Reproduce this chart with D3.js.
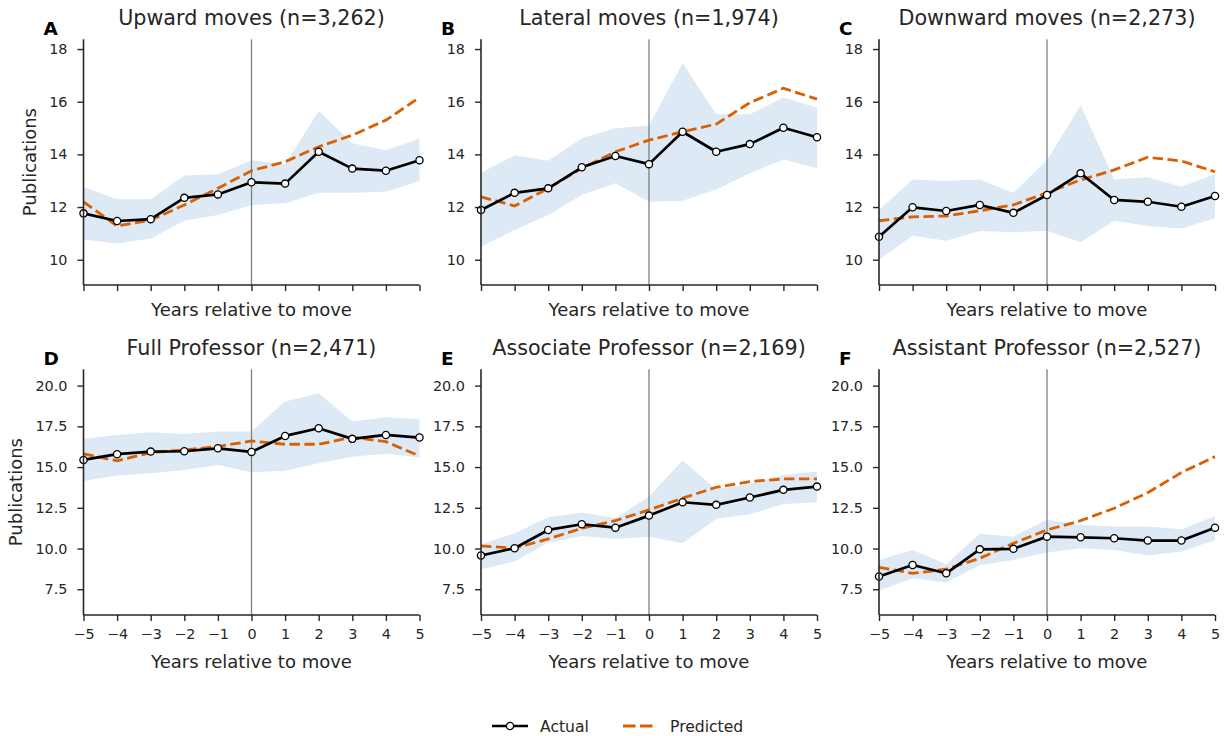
<!DOCTYPE html>
<html>
<head>
<meta charset="utf-8">
<script src="https://cdn.jsdelivr.net/npm/d3@7"></script>
<style>
  html, body { margin: 0; padding: 0; background: #fff; }
  svg { display: block; font-family: "DejaVu Sans", sans-serif; }
</style>
</head>
<body>
<div id="app"></div>
<script>
// years relative to the move
const years = [-5, -4, -3, -2, -1, 0, 1, 2, 3, 4, 5];

const panelTitles = [
    'Upward moves (n=3,262)', 'Lateral moves (n=1,974)', 'Downward moves (n=2,273)',
    'Full Professor (n=2,471)', 'Associate Professor (n=2,169)', 'Assistant Professor (n=2,527)'
];
const panelLetters = ['A', 'B', 'C', 'D', 'E', 'F'];

const upwardActual = [11.76, 11.47, 11.54, 12.35, 12.48, 12.94, 12.89, 14.10, 13.46, 13.38, 13.78];
const upwardPredicted = [12.20, 11.28, 11.50, 12.08, 12.71, 13.38, 13.72, 14.29, 14.73, 15.30, 16.16];
const upwardLower = [10.77, 10.62, 10.81, 11.48, 11.70, 12.08, 12.14, 12.54, 12.54, 12.58, 12.99];
const upwardUpper = [12.77, 12.30, 12.30, 13.20, 13.25, 13.78, 13.63, 15.65, 14.42, 14.16, 14.60];

const lateralActual = [11.89, 12.54, 12.71, 13.51, 13.94, 13.63, 14.86, 14.10, 14.39, 15.01, 14.65];
const lateralPredicted = [12.39, 12.04, 12.71, 13.47, 14.10, 14.54, 14.86, 15.15, 15.96, 16.51, 16.10];
const lateralLower = [10.49, 11.13, 11.70, 12.46, 12.90, 12.20, 12.24, 12.67, 13.28, 13.81, 13.47];
const lateralUpper = [13.30, 13.97, 13.76, 14.61, 14.99, 15.11, 17.46, 15.52, 15.52, 16.16, 15.77];

const downwardActual = [10.87, 11.99, 11.85, 12.08, 11.78, 12.46, 13.28, 12.27, 12.20, 12.01, 12.42];
const downwardPredicted = [11.48, 11.63, 11.66, 11.86, 12.08, 12.54, 13.03, 13.41, 13.89, 13.75, 13.34];
const downwardLower = [10.01, 10.91, 10.72, 11.09, 11.04, 11.10, 10.66, 11.48, 11.28, 11.19, 11.57];
const downwardUpper = [11.89, 13.05, 12.99, 13.05, 12.54, 13.78, 15.87, 13.05, 13.13, 12.77, 13.25];

const fullActual = [15.44, 15.79, 15.95, 15.97, 16.15, 15.93, 16.91, 17.38, 16.73, 16.97, 16.81];
const fullPredicted = [15.81, 15.38, 15.89, 16.05, 16.26, 16.60, 16.40, 16.40, 16.83, 16.56, 15.68];
const fullLower = [14.15, 14.48, 14.62, 14.82, 15.13, 14.68, 14.78, 15.23, 15.64, 15.81, 15.58];
const fullUpper = [16.73, 16.97, 17.14, 17.03, 17.18, 17.18, 19.02, 19.53, 17.79, 18.06, 17.93];

const assocActual = [9.57, 10.02, 11.14, 11.49, 11.28, 12.02, 12.84, 12.68, 13.13, 13.60, 13.80];
const assocPredicted = [10.16, 10.02, 10.59, 11.24, 11.71, 12.37, 13.09, 13.76, 14.11, 14.27, 14.27];
const assocLower = [8.73, 9.20, 10.36, 10.77, 10.59, 10.73, 10.32, 11.82, 12.10, 12.74, 12.84];
const assocUpper = [10.26, 10.94, 11.92, 12.21, 11.86, 13.19, 15.40, 13.64, 13.96, 14.52, 14.72];

const assistActual = [8.28, 8.99, 8.48, 9.95, 9.98, 10.73, 10.69, 10.63, 10.49, 10.49, 11.28];
const assistPredicted = [8.85, 8.48, 8.73, 9.40, 10.32, 11.14, 11.71, 12.47, 13.43, 14.66, 15.64];
const assistLower = [7.42, 8.17, 7.91, 8.99, 9.30, 9.75, 10.02, 9.91, 9.57, 9.81, 10.53];
const assistUpper = [9.30, 9.91, 9.03, 10.90, 10.73, 11.76, 11.45, 11.35, 11.35, 11.18, 12.00];

const topTicks = [10, 12, 14, 16, 18];
const bottomTicks = [7.5, 10, 12.5, 15, 17.5, 20];

const series = [
    [upwardActual, upwardPredicted, upwardLower, upwardUpper],
    [lateralActual, lateralPredicted, lateralLower, lateralUpper],
    [downwardActual, downwardPredicted, downwardLower, downwardUpper],
    [fullActual, fullPredicted, fullLower, fullUpper],
    [assocActual, assocPredicted, assocLower, assocUpper],
    [assistActual, assistPredicted, assistLower, assistUpper]
];

const width = 1225;
const height = 736;
const textColor = '#262626';
const orange = '#d95f02';
const bandColor = '#dde9f4';

const colLeft = [83.5, 481, 879];
const axW = 336;
const rowTop = [39.3, 369.3];
const axH = 245.7;

const svg = d3.select('#app').append('svg')
    .attr('width', width).attr('height', height);

series.forEach((s, i) => {
    const row = Math.floor(i / 3);
    const col = i % 3;
    const [actual, predicted, lower, upper] = s;
    const g = svg.append('g')
        .attr('transform', `translate(${colLeft[col]}, ${rowTop[row]})`);

    const x = d3.scaleLinear().domain([-5, 5]).range([0, axW]);
    const y = d3.scaleLinear()
        .domain(row === 0 ? [9.04, 18.37] : [5.92, 21.0])
        .range([axH, 0]);

    const pts = years.map((yr, k) => ({ yr, a: actual[k], p: predicted[k], lo: lower[k], hi: upper[k] }));

    // confidence band
    g.append('path').datum(pts)
        .attr('fill', bandColor)
        .attr('d', d3.area().x(d => x(d.yr)).y0(d => y(d.lo)).y1(d => y(d.hi)));

    // move year
    g.append('line')
        .attr('x1', x(0)).attr('x2', x(0))
        .attr('y1', 0).attr('y2', axH)
        .attr('stroke', '#7f7f7f').attr('stroke-width', 1.3);

    g.append('path').datum(pts)
        .attr('fill', 'none')
        .attr('stroke', orange)
        .attr('stroke-width', 2.8)
        .attr('stroke-dasharray', '10.4,4.5')
        .attr('d', d3.line().x(d => x(d.yr)).y(d => y(d.p)));

    g.append('path').datum(pts)
        .attr('fill', 'none')
        .attr('stroke', '#000')
        .attr('stroke-width', 2.7)
        .attr('stroke-linejoin', 'round')
        .attr('d', d3.line().x(d => x(d.yr)).y(d => y(d.a)));

    g.selectAll('circle.pt').data(pts).join('circle')
        .attr('class', 'pt')
        .attr('cx', d => x(d.yr))
        .attr('cy', d => y(d.a))
        .attr('r', 3.6)
        .attr('fill', '#fff')
        .attr('stroke', '#000')
        .attr('stroke-width', 1.3);

    // axes
    const yAxis = d3.axisLeft(y)
        .tickValues(row === 0 ? topTicks : bottomTicks)
        .tickFormat(row === 0 ? d3.format('d') : d3.format('.1f'))
        .tickSize(6).tickPadding(10);
    const yg = g.append('g').call(yAxis);

    const xAxis = d3.axisBottom(x)
        .tickValues(years)
        .tickSize(6).tickPadding(8);
    const xg = g.append('g').attr('transform', `translate(0, ${axH})`).call(xAxis);
    if (row === 0) xg.selectAll('.tick text').remove();

    [yg, xg].forEach(a => {
        a.select('.domain').attr('stroke', textColor).attr('stroke-width', 1.6);
        a.selectAll('.tick line').attr('stroke', textColor).attr('stroke-width', 1.4);
        a.selectAll('.tick text')
            .attr('fill', textColor)
            .style('font-size', '14.4px')
            .style('font-family', '"DejaVu Sans", sans-serif');
    });
    // the axisLeft/axisBottom domain path has outer ticks; keep them flush
    yg.select('.domain').attr('d', `M0,0V${axH}`);
    xg.select('.domain').attr('d', `M0,0H${axW}`);

    g.append('text')
        .attr('x', axW / 2).attr('y', -14)
        .attr('text-anchor', 'middle')
        .attr('fill', textColor)
        .style('font-size', '20.7px')
        .text(panelTitles[i]);

    g.append('text')
        .attr('x', -40).attr('y', -4.5)
        .attr('fill', '#000')
        .style('font-size', '18.5px')
        .style('font-weight', 'bold')
        .text(panelLetters[i]);

    g.append('text')
        .attr('x', axW / 2).attr('y', row === 0 ? 276.7 : 298.7)
        .attr('text-anchor', 'middle')
        .attr('fill', textColor)
        .style('font-size', '18px')
        .text('Years relative to move');

    if (col === 0) {
        g.append('text')
            .attr('transform', `translate(${row === 0 ? -47.5 : -62}, ${axH / 2}) rotate(-90)`)
            .attr('text-anchor', 'middle')
            .attr('fill', textColor)
            .style('font-size', '18px')
            .text('Publications');
    }
});

// legend
const legend = svg.append('g').attr('transform', 'translate(0, 726)');
legend.append('line')
    .attr('x1', 492).attr('x2', 528).attr('y1', 0).attr('y2', 0)
    .attr('stroke', '#000').attr('stroke-width', 2.7);
legend.append('circle')
    .attr('cx', 510).attr('cy', 0).attr('r', 3.6)
    .attr('fill', '#fff').attr('stroke', '#000').attr('stroke-width', 1.3);
legend.append('text')
    .attr('x', 540).attr('y', 5.5)
    .attr('fill', textColor)
    .style('font-size', '15.6px')
    .text('Actual');
legend.append('line')
    .attr('x1', 623).attr('x2', 653).attr('y1', 0).attr('y2', 0)
    .attr('stroke', orange).attr('stroke-width', 2.8)
    .attr('stroke-dasharray', '12.5,4.5');
legend.append('text')
    .attr('x', 670).attr('y', 5.5)
    .attr('fill', textColor)
    .style('font-size', '15.6px')
    .text('Predicted');
</script>
</body>
</html>
